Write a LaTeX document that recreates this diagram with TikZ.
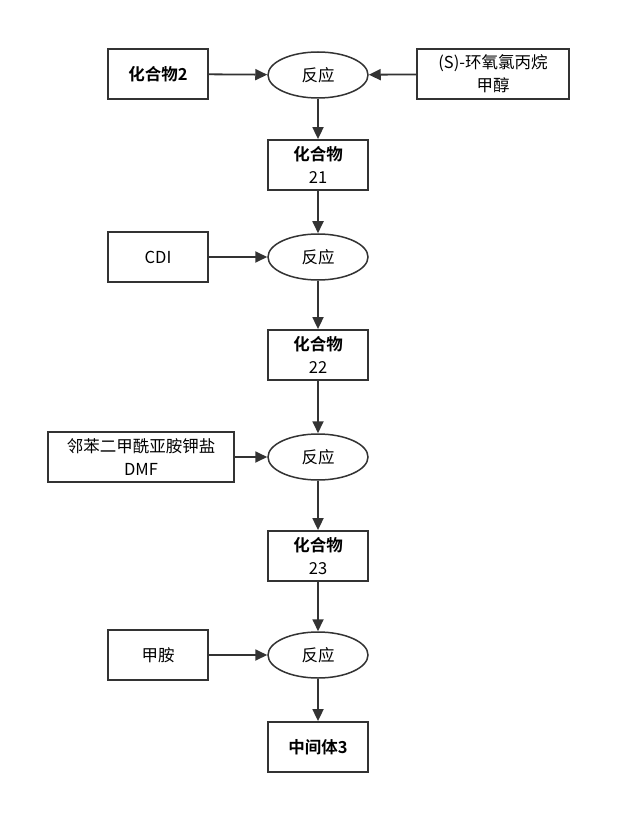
\documentclass[tikz,border=0pt]{standalone}
\usepackage{fontspec}
\setmainfont{Noto Sans CJK SC}[BoldFont={Noto Sans CJK SC Bold}]
\usetikzlibrary{arrows.meta,positioning,shapes.geometric}
\definecolor{ink}{HTML}{333333}
\tikzset{box/.style={draw=ink,line width=1.8pt,align=center,minimum width=100pt,minimum height=50pt,inner sep=2pt,font=\fontsize{16.5}{23}\selectfont},react/.style={ellipse,draw=ink,line width=1.5pt,minimum width=100pt,minimum height=46pt,inner sep=0pt,font=\fontsize{16.5}{23}\selectfont},arrow/.style={-{Triangle[length=12pt,width=11pt]},draw=ink,fill=ink,line width=1.8pt}}

\begin{document}
\begin{tikzpicture}[x=1pt,y=-1pt]
\useasboundingbox (0,0) rectangle (631,834);
\node[box] (c2) at (158,74) {\textbf{化合物2}};
\node[react] (r1) at (318,75) {反应};
\node[box,minimum width=152pt] (s1) at (493,74) {(S)-环氧氯丙烷\\甲醇};
\node[box] (c21) at (318,165) {\textbf{化合物}\\21};
\node[box] (s2) at (158,257) {CDI};
\node[react] (r2) at (318,257) {反应};
\node[box] (c22) at (318,355) {\textbf{化合物}\\22};
\node[box,minimum width=186pt] (s3) at (141,457) {邻苯二甲酰亚胺钾盐\\DMF};
\node[react] (r3) at (318,457) {反应};
\node[box] (c23) at (318,556) {\textbf{化合物}\\23};
\node[box] (s4) at (158,655) {甲胺};
\node[react] (r4) at (318,655) {反应};
\node[box] (i3) at (318,747) {\textbf{中间体3}};
\draw[arrow](c2)--(r1);\draw[arrow](s1)--(r1);\draw[arrow](r1)--(c21);
\draw[arrow](c21)--(r2);\draw[arrow](s2)--(r2);\draw[arrow](r2)--(c22);
\draw[arrow](c22)--(r3);\draw[arrow](s3)--(r3);\draw[arrow](r3)--(c23);
\draw[arrow](c23)--(r4);\draw[arrow](s4)--(r4);\draw[arrow](r4)--(i3);
\end{tikzpicture}
\end{document}
